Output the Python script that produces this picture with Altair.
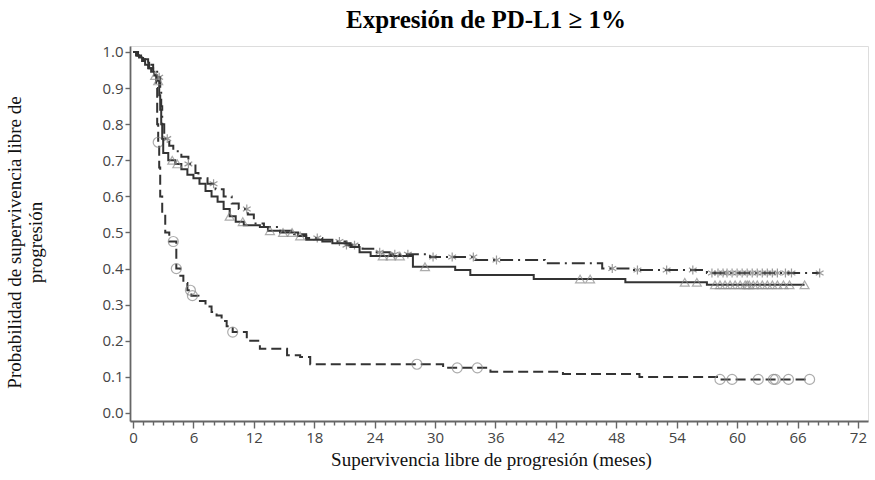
import altair as alt
import numpy as np
import pandas as pd

# --- Kaplan-Meier estimates (months, survival probability) ---
# Arm with solid line and triangle censor marks
tri_time = [0, 0.3, 0.6, 0.9, 1.2, 1.5, 1.8, 2.1, 2.4, 2.6, 2.7, 2.8, 2.9, 3.0, 3.5, 4.2,
            4.8, 5.4, 6.0, 6.6, 7.2, 7.8, 8.4, 9.0, 9.6, 10.2, 11.0, 12.6, 13.4, 14.6,
            16.4, 17.2, 19.8, 21.6, 22.5, 23.6, 27.8, 32.0, 33.5, 39.8, 48.9, 57.0]
tri_surv = [1.0, 0.99, 0.985, 0.975, 0.965, 0.955, 0.945, 0.935, 0.92, 0.88, 0.84, 0.80,
            0.76, 0.72, 0.70, 0.69, 0.675, 0.66, 0.65, 0.635, 0.615, 0.60, 0.585, 0.565,
            0.545, 0.53, 0.52, 0.515, 0.505, 0.50, 0.49, 0.48, 0.47, 0.46, 0.445, 0.435,
            0.405, 0.396, 0.382, 0.371, 0.362, 0.355]
tri_end = 66.7
tri_cens = [2.2, 2.5, 3.9, 4.4, 9.6, 10.9, 13.6, 14.9, 15.8, 16.6, 24.8, 25.6, 26.5, 29.0,
            44.4, 45.4, 54.8, 56.0, 57.8, 58.3, 58.8, 59.3, 59.8, 60.3, 60.8, 61.0, 61.2,
            61.6, 62.0, 62.5, 63.0, 63.5, 64.0, 64.6, 65.2, 66.7]

# Arm with dash-dot line and asterisk censor marks
ast_time = [0, 0.4, 0.8, 1.2, 1.6, 2.0, 2.4, 2.7, 2.8, 2.9, 3.1, 3.6, 4.0, 4.8, 5.5, 6.2,
            6.5, 7.4, 8.2, 9.0, 9.8, 10.5, 11.4, 12.0, 13.0, 14.5, 16.0, 17.2, 18.8, 21.2,
            22.8, 24.0, 25.5, 29.5, 34.0, 40.9, 46.6, 49.5, 57.0]
ast_surv = [1.0, 0.99, 0.98, 0.97, 0.955, 0.945, 0.93, 0.90, 0.85, 0.80, 0.76, 0.74, 0.725,
            0.71, 0.69, 0.665, 0.65, 0.635, 0.62, 0.60, 0.58, 0.565, 0.55, 0.525, 0.515,
            0.505, 0.495, 0.485, 0.475, 0.465, 0.455, 0.445, 0.44, 0.432, 0.424, 0.415,
            0.40, 0.396, 0.388]
ast_end = 68.2
ast_cens = [2.6, 3.4, 5.5, 8.0, 11.3, 18.3, 20.5, 21.2, 22.0, 24.5, 26.0, 27.3, 29.8, 31.7,
            33.8, 36.1, 47.6, 50.1, 53.0, 55.6, 57.5, 58.1, 58.6, 59.0, 59.5, 60.0, 60.5,
            61.0, 61.5, 62.0, 62.5, 63.0, 63.5, 64.0, 64.8, 65.4, 68.2]

# Arm with dashed line and circle censor marks
cir_time = [0, 0.5, 1.0, 1.5, 2.0, 2.3, 2.4, 2.5, 2.6, 2.7, 2.9, 3.2, 3.6, 4.3, 4.7, 5.0,
            5.4, 5.8, 6.5, 7.2, 7.8, 8.3, 8.8, 9.3, 9.9, 11.3, 12.6, 15.3, 16.6, 17.6,
            30.8, 35.5, 42.7, 50.3, 58.0]
cir_surv = [1.0, 0.99, 0.98, 0.965, 0.94, 0.90, 0.80, 0.75, 0.68, 0.60, 0.55, 0.50, 0.475,
            0.40, 0.38, 0.36, 0.34, 0.325, 0.31, 0.295, 0.28, 0.27, 0.255, 0.24, 0.224,
            0.20, 0.178, 0.16, 0.155, 0.135, 0.125, 0.114, 0.108, 0.10, 0.093]
cir_end = 67.2
cir_cens = [2.5, 4.0, 4.3, 5.7, 5.9, 9.9, 28.2, 32.2, 34.2, 58.3, 59.5, 62.1, 63.6, 63.8,
            65.1, 67.2]

x_ticks = list(range(0, 73))
y_ticks = [round(v * 0.1, 1) for v in range(0, 11)]

ASTERISK = "M0,-1L0,1M-0.87,-0.5L0.87,0.5M-0.87,0.5L0.87,-0.5"


def curve_frame(times, surv, end):
    return pd.DataFrame({"t": list(times) + [end], "s": list(surv) + [surv[-1]]})


def censor_frame(times, surv, cens):
    idx = np.searchsorted(np.asarray(times), np.asarray(cens), side="right") - 1
    return pd.DataFrame({"t": cens, "s": np.asarray(surv)[idx]})


x_enc = alt.X(
    "t:Q",
    scale=alt.Scale(domain=[-0.3, 73.0], nice=False, zero=False),
    axis=alt.Axis(
        values=x_ticks,
        labelExpr="datum.value % 6 === 0 ? datum.label : ''",
        tickSize={"condition": {"test": "datum.value % 6 === 0", "value": 7}, "value": 4},
        tickWidth=1.4,
        tickColor="#666666",
        domainColor="#666666",
        domainWidth=1.8,
        labelFont="Open Sans",
        labelFontSize=15,
        labelColor="#444444",
        labelPadding=2,
        grid=False,
        title="Supervivencia libre de progresión (meses)",
        titleFont="Liberation Serif",
        titleFontSize=19,
        titleFontWeight="normal",
        titleColor="#111111",
        titleX=361,
        titleY=44,
        titleBaseline="alphabetic",
        titleAlign="center",
    ),
)

y_enc = alt.Y(
    "s:Q",
    scale=alt.Scale(domain=[-0.0222, 1.0166], nice=False, zero=False),
    axis=alt.Axis(
        values=y_ticks,
        format=".1f",
        tickSize=5,
        tickWidth=1.4,
        tickColor="#666666",
        domainColor="#666666",
        domainWidth=1.8,
        labelFont="Open Sans",
        labelFontSize=15,
        labelColor="#444444",
        labelPadding=2,
        grid=False,
        title=["Probabilidad de supervivencia libre de", "progresión"],
        titleFont="Liberation Serif",
        titleFontSize=19,
        titleFontWeight="normal",
        titleColor="#111111",
        titleLineHeight=21,
        titleAngle=-90,
        titleAlign="center",
        titleBaseline="middle",
        titleX=-116,
        titleY=196,
    ),
)


def arm_layers(times, surv, end, cens, dash, shape, mark_color, mark_size):
    line = alt.Chart(curve_frame(times, surv, end)).mark_line(
        interpolate="step-after", color="#333333", strokeWidth=2, strokeDash=dash
    ).encode(x=x_enc, y=y_enc)
    pts = alt.Chart(censor_frame(times, surv, cens)).mark_point(
        shape=shape, filled=False, color=mark_color, size=mark_size, strokeWidth=1.2
    ).encode(x=x_enc, y=y_enc)
    return [line, pts]


layers = (
    arm_layers(cir_time, cir_surv, cir_end, cir_cens, [10, 5], "circle", "#8a8a8a", 100)
    + arm_layers(ast_time, ast_surv, ast_end, ast_cens, [13, 5, 2, 5], ASTERISK, "#707070", 80)
    + arm_layers(tri_time, tri_surv, tri_end, tri_cens, [1, 0], "triangle-up", "#8a8a8a", 80)
)

chart = alt.layer(*layers).properties(
    width=738,
    height=375,
    autosize=alt.AutoSizeParams(type="none"),
    padding={"left": 130, "top": 46, "right": 7, "bottom": 59},
    title=alt.TitleParams(
        "Expresión de PD-L1 ≥ 1%",
        font="Liberation Serif",
        fontSize=25,
        fontWeight="bold",
        color="#000000",
        anchor="middle",
        dx=-13,
        offset=12,
    ),
).configure_view(stroke="#666666", strokeWidth=1.8).configure(background="white")

chart.save("out.html", embed_options={"renderer": "svg", "actions": False})
